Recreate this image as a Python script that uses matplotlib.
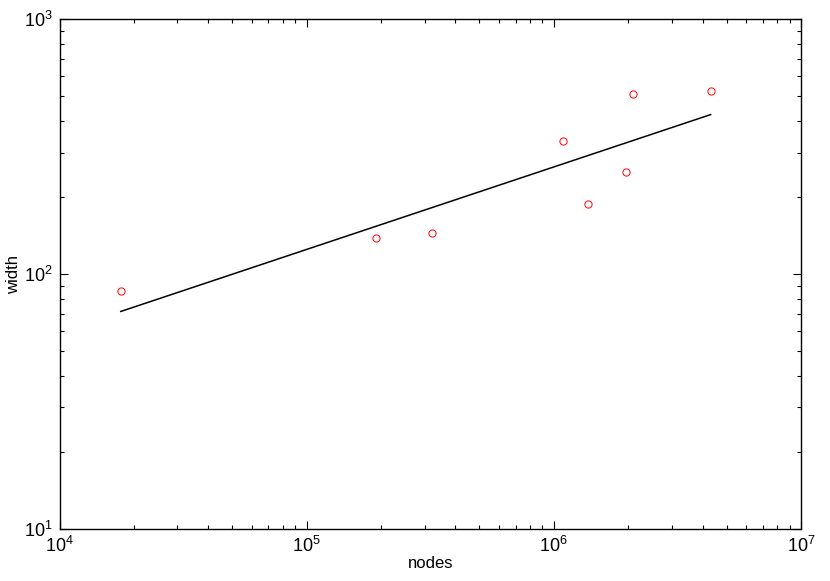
import numpy as np
import matplotlib.pyplot as plt
from matplotlib.ticker import LogLocator, LogFormatterMathtext, NullFormatter

plt.rcParams['font.family'] = ['Liberation Sans', 'DejaVu Sans']
plt.rcParams['mathtext.fontset'] = 'custom'
plt.rcParams['mathtext.rm'] = 'Liberation Sans'
plt.rcParams['mathtext.it'] = 'Liberation Sans'

# data
nodes = [17700, 190000, 321000, 1085000, 1377000, 1957000, 2095000, 4310000]
width = [85.9, 139, 145.4, 333.9, 188.9, 252, 509, 521.8]

# power-law fit width = a * nodes**b (least squares in log space)
lx = np.log10(nodes)
ly = np.log10(width)
b, loga = np.polyfit(lx, ly, 1)
xfit = np.array([min(nodes), max(nodes)])
yfit = 10 ** loga * xfit ** b

fig = plt.figure(figsize=(8.3, 5.81), dpi=100)
ax = fig.add_axes([0.0717, 0.0895, 0.8933, 0.8773])

ax.plot(xfit, yfit, color='black', lw=1.1)
ax.plot(nodes, width, 'o', mfc='none', mec='red', ms=5.2, mew=0.7)

ax.set_xscale('log')
ax.set_yscale('log')
ax.set_xlim(1e4, 1e7)
ax.set_ylim(10, 1000)
ax.xaxis.set_major_formatter(LogFormatterMathtext())
ax.yaxis.set_major_formatter(LogFormatterMathtext())
for a in (ax.xaxis, ax.yaxis):
    a.set_minor_locator(LogLocator(subs=np.arange(2, 10)))
    a.set_minor_formatter(NullFormatter())

ax.tick_params(which='both', direction='in', top=True, right=True, labelsize=13, width=0.8)
ax.tick_params(which='major', length=6, pad=5)
ax.tick_params(which='minor', length=3)
for s in ax.spines.values():
    s.set_linewidth(1.0)

ax.set_xlabel('nodes', fontsize=12, labelpad=0)
ax.set_ylabel('width', fontsize=12, labelpad=2)

plt.savefig('out.png', dpi=100)
